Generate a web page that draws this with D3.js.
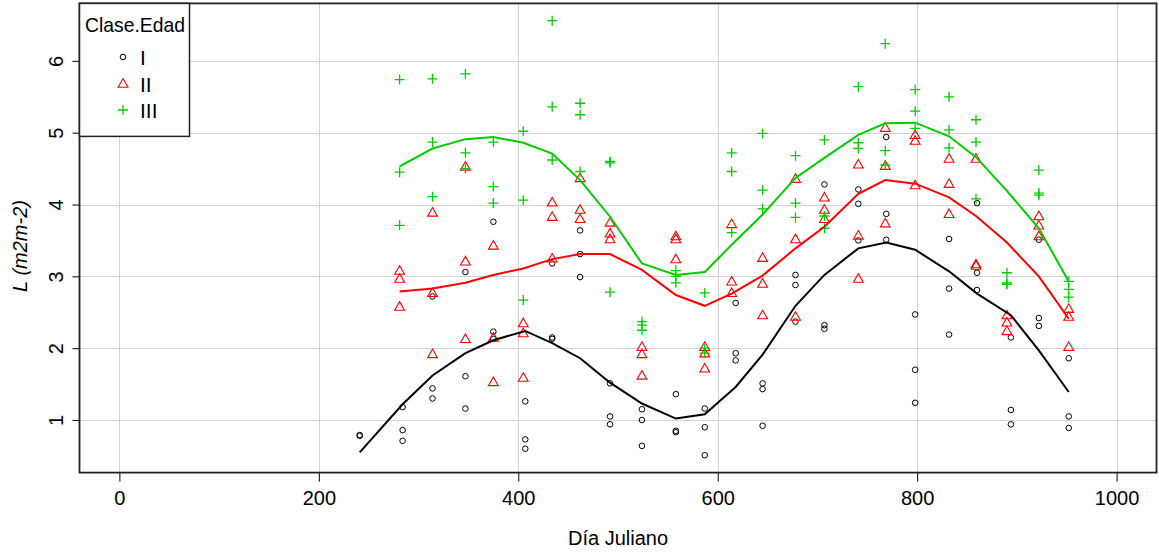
<!DOCTYPE html>
<html><head><meta charset="utf-8">
<script src="https://cdn.jsdelivr.net/npm/d3@7"></script>
<style>
html,body{margin:0;padding:0;background:#fff;}
text{font-family:"Liberation Sans",Arial,Helvetica,sans-serif;fill:#000;}
</style></head>
<body><svg id="chart" width="1159" height="556"></svg>
<script>
// ---- data ----
const classes = ["I", "II", "III"];
const daysI = [241, 284, 314, 347, 375, 407, 434, 462, 492, 524, 558, 587, 618, 645, 678, 707, 741, 769, 798, 832, 860, 894, 922, 952];
const days = [281, 314, 347, 375, 405, 434, 462, 492, 524, 558, 587, 614, 645, 678, 707, 741, 768, 798, 832, 859, 890, 922, 952];
const pointsI = [
  [0.78, 0.79], [1.18, 0.86, 0.71], [2.72, 1.44, 1.30], [3.06, 1.61, 1.16],
  [3.76, 2.23, 2.13], [1.26, 0.73, 0.60], [3.18, 2.15, 2.13], [3.64, 3.31, 2.99],
  [1.51, 1.05, 0.94], [1.15, 1.00, 0.64], [1.36, 0.85, 0.83], [1.16, 0.90, 0.51],
  [2.63, 1.93, 1.83], [1.51, 1.43, 0.92], [3.02, 2.88, 2.37], [4.28, 2.32, 2.27],
  [4.21, 4.01, 3.50], [4.94, 3.87, 3.51], [2.47, 1.70, 1.24], [3.52, 2.83, 2.19],
  [4.02, 3.05, 2.81], [2.15, 1.14, 0.94], [3.51, 2.42, 2.31], [1.86, 1.05, 0.89]
];
const pointsII = [
  [3.08, 2.97, 2.58], [3.89, 2.77, 1.92], [4.53, 3.21, 2.13], [3.43, 2.15, 1.53],
  [2.35, 2.21, 1.59], [4.03, 3.83, 3.25], [4.37, 3.93, 3.80], [3.75, 3.60, 3.52],
  [2.02, 1.92, 1.62], [3.56, 3.52, 3.24], [2.02, 1.93, 1.72], [3.73, 2.93, 2.77],
  [3.26, 2.90, 2.46], [4.36, 3.52, 2.44], [4.10, 3.93, 3.80], [4.56, 3.57, 2.97],
  [5.07, 4.54, 3.74], [4.97, 4.89, 4.27], [4.64, 4.29, 3.87], [4.64, 3.17, 3.15],
  [2.46, 2.36, 2.24], [3.84, 3.71, 3.56], [2.55, 2.44, 2.02]
];
const pointsIII = [
  [5.74, 4.45, 3.71], [5.75, 4.87, 4.11], [5.82, 4.72, 4.50], [4.87, 4.25, 4.02],
  [5.02, 4.06, 2.67], [6.56, 5.36, 4.62], [5.41, 5.25, 4.46], [4.60, 4.58, 2.78],
  [2.37, 2.32, 2.25], [3.08, 3.00, 2.91], [2.77, 2.00, 1.93], [4.72, 4.46, 3.61],
  [4.99, 4.20, 3.94], [4.68, 4.02, 3.82], [4.90, 3.84, 3.67], [5.64, 4.86, 4.78],
  [6.24, 4.75, 4.55], [5.60, 5.30, 5.06], [5.50, 5.04, 4.79], [5.18, 4.87, 4.08],
  [3.05, 2.91, 2.89], [4.48, 4.16, 4.13], [2.93, 2.82, 2.71]
];
const lineI = [0.55, 1.22, 1.62, 1.93, 2.11, 2.24, 2.07, 1.86, 1.52, 1.23, 1.02, 1.08, 1.46, 1.91, 2.59, 3.02, 3.39, 3.47, 3.37, 3.07, 2.76, 2.46, 1.97, 1.39];
const lineII = [2.79, 2.83, 2.91, 3.02, 3.11, 3.24, 3.31, 3.31, 3.09, 2.74, 2.59, 2.76, 3.01, 3.39, 3.69, 4.15, 4.34, 4.29, 4.10, 3.84, 3.47, 3.00, 2.41];
const lineIII = [4.53, 4.78, 4.91, 4.94, 4.86, 4.71, 4.34, 3.83, 3.18, 3.02, 3.06, 3.44, 3.86, 4.37, 4.65, 4.97, 5.13, 5.14, 4.95, 4.66, 4.19, 3.67, 2.93];
const xTicks = [0, 200, 400, 600, 800, 1000];
const yTicks = [1, 2, 3, 4, 5, 6];
const xTitle = "Día Juliano";
const yTitle = "L (m2m-2)";
const legendTitle = "Clase.Edad";

// ---- layout ----
const svg = d3.select("#chart");
const L = 79.5, R = 1156.5, T = 3.4, B = 472.6;
const x = d3.scaleLinear().domain([-40, 1040]).range([L, R]);
const y = d3.scaleLinear().domain([0.268, 6.80]).range([B, T]);
const colors = {I: "#000000", II: "#FF0000", III: "#00CD00"};
const font = 20;

svg.append("rect").attr("width", 1159).attr("height", 556).attr("fill", "#fff");

// grid
const grid = svg.append("g");
grid.selectAll("line.gx").data(xTicks).join("line")
  .attr("x1", d => Math.round(x(d)) + 0.5).attr("x2", d => Math.round(x(d)) + 0.5)
  .attr("y1", T).attr("y2", B).attr("stroke", "#D3D3D3").attr("stroke-width", 1);
grid.selectAll("line.gy").data(yTicks).join("line")
  .attr("y1", d => Math.round(y(d)) + 0.5).attr("y2", d => Math.round(y(d)) + 0.5)
  .attr("x1", L).attr("x2", R).attr("stroke", "#D3D3D3").attr("stroke-width", 1);

// axes
const xAxis = svg.append("g").attr("transform", `translate(0,${B})`)
  .call(d3.axisBottom(x).tickValues(xTicks).tickSize(9).tickPadding(9).tickFormat(d3.format("d")));
xAxis.select(".domain").remove();
xAxis.selectAll("text").attr("font-size", font).style("font-family", "Liberation Sans, Arial, sans-serif");
xAxis.selectAll("line").attr("stroke", "#000");

const yAxis = svg.append("g").attr("transform", `translate(${L},0)`)
  .call(d3.axisLeft(y).tickValues(yTicks).tickSize(7).tickFormat(d3.format("d")));
yAxis.select(".domain").remove();
yAxis.selectAll("line").attr("stroke", "#000");
yAxis.selectAll("text").remove();
yAxis.selectAll(".tick").append("text")
  .attr("transform", "translate(-17,0) rotate(-90)")
  .attr("text-anchor", "middle").attr("dy", 0)
  .attr("font-size", font).style("font-family", "Liberation Sans, Arial, sans-serif")
  .attr("fill", "#000")
  .text(d => d);

// titles
svg.append("text").attr("x", (L + R) / 2).attr("y", 545).attr("text-anchor", "middle")
  .attr("font-size", font).text(xTitle);
svg.append("text").attr("transform", "translate(27,246) rotate(-90)").attr("text-anchor", "middle")
  .attr("font-size", font).attr("font-style", "italic").text(yTitle);

// lines
const lineGen = d3.line().x(d => x(d[0])).y(d => y(d[1]));
const lineData = [
  {c: "I", pts: daysI.map((d, i) => [d, lineI[i]])},
  {c: "II", pts: days.map((d, i) => [d, lineII[i]])},
  {c: "III", pts: days.map((d, i) => [d, lineIII[i]])}
];

// points
const pts = [];
daysI.forEach((d, i) => pointsI[i].forEach(v => pts.push({c: "I", d, v})));
days.forEach((d, i) => pointsII[i].forEach(v => pts.push({c: "II", d, v})));
days.forEach((d, i) => pointsIII[i].forEach(v => pts.push({c: "III", d, v})));

function marker(sel, c) {
  if (c === "I") {
    sel.append("circle").attr("r", 2.8).attr("fill", "none").attr("stroke", colors.I).attr("stroke-width", 1);
  } else if (c === "II") {
    const s = 4.9, h = 4.9;
    sel.append("path").attr("d", `M0,${-h}L${s},${h * 0.75}L${-s},${h * 0.75}Z`)
      .attr("fill", "none").attr("stroke", colors.II).attr("stroke-width", 1.1);
  } else {
    const a = 5;
    sel.append("path").attr("d", `M${-a},0H${a}M0,${-a}V${a}`)
      .attr("fill", "none").attr("stroke", colors.III).attr("stroke-width", 1.3);
  }
}

const pg = svg.append("g");
pts.forEach(p => {
  const g = pg.append("g").attr("transform", `translate(${x(p.d)},${y(p.v)})`);
  marker(g, p.c);
});

svg.append("g").selectAll("path").data(lineData).join("path")
  .attr("d", d => lineGen(d.pts)).attr("fill", "none")
  .attr("stroke", d => colors[d.c]).attr("stroke-width", 2);

// box
svg.append("rect").attr("x", L).attr("y", T).attr("width", R - L).attr("height", B - T)
  .attr("fill", "none").attr("stroke", "#222").attr("stroke-width", 1.8);

// legend
const lg = svg.append("g");
lg.append("rect").attr("x", L).attr("y", T).attr("width", 110).attr("height", 133)
  .attr("fill", "#fff").attr("stroke", "#222").attr("stroke-width", 1.5);
lg.append("text").attr("x", L + 55.5).attr("y", 32).attr("text-anchor", "middle")
  .attr("font-size", 21).attr("textLength", 100).attr("lengthAdjust", "spacingAndGlyphs")
  .text(legendTitle);
classes.forEach((c, i) => {
  const cy = 57 + i * 26.5;
  const g = lg.append("g").attr("transform", `translate(123,${cy})`);
  marker(g, c);
  lg.append("text").attr("x", 140).attr("y", cy + 8).attr("font-size", 21).text(c);
});
</script></body></html>
